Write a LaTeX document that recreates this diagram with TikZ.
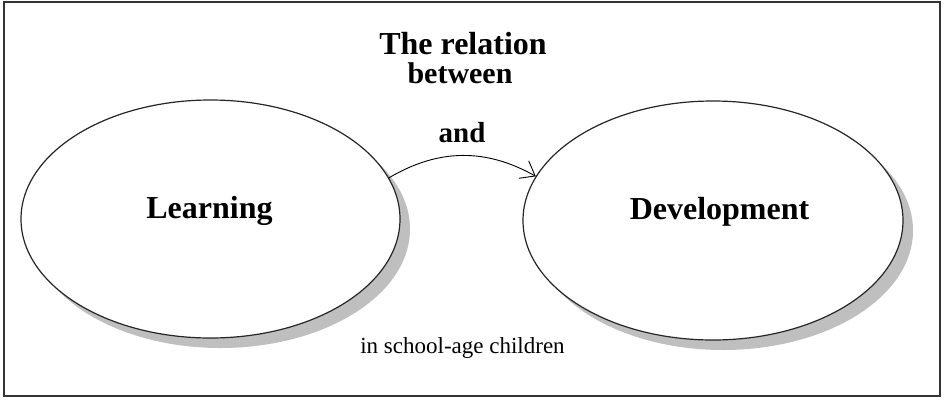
\documentclass[tikz,border=0pt]{standalone}
\usepackage{fontspec}
\setmainfont{Liberation Serif}
\usetikzlibrary{shapes.geometric,shadows,arrows.meta}

\begin{document}
\begin{tikzpicture}[x=1pt,y=-1pt,
            main node/.style={ellipse,draw=black!85,line width=1.2pt,fill=white,inner sep=0pt,
              font=\bfseries\fontsize{32}{36}\selectfont,
              drop shadow={shadow xshift=10pt,shadow yshift=-10pt,fill=gray!50,opacity=1}},
            label node/.style={anchor=base,inner sep=0pt,font=\bfseries\fontsize{30}{34}\selectfont}]

        \useasboundingbox (0,0) rectangle (945,400);
        \draw[black!80,line width=2pt] (4,2) rectangle (940,396);

        % Define vertices
        \node[main node,minimum width=379pt,minimum height=238pt] (L) at (210.5,219) {};
        \node[main node,minimum width=380pt,minimum height=239pt] (D) at (713,220.5) {};
        \node[anchor=base,inner sep=0pt,font=\bfseries\fontsize{32}{36}\selectfont] (Lt) at (209.5,218) {Learning};
        \node[anchor=base,inner sep=0pt,font=\bfseries\fontsize{32}{36}\selectfont] (Dt) at (719.5,219) {Development};

        % Texts
        \node[label node,font=\bfseries\fontsize{32}{36}\selectfont] (rel) at (463,54) {The relation};
        \node[label node] (btw) at (460,83) {between};
        \node[label node,font=\bfseries\fontsize{29}{34}\selectfont] (and) at (462,142) {and};
        \node[anchor=base,inner sep=0pt,font=\fontsize{23}{27}\selectfont] (age) at (462.5,353) {in school-age children};

        % Draw edges
        \path[-{Straight Barb[length=13pt,width=20pt]},line width=0.9pt]
            (L.13) edge[bend left=30] (D.166);

        \end{tikzpicture}
\end{document}
